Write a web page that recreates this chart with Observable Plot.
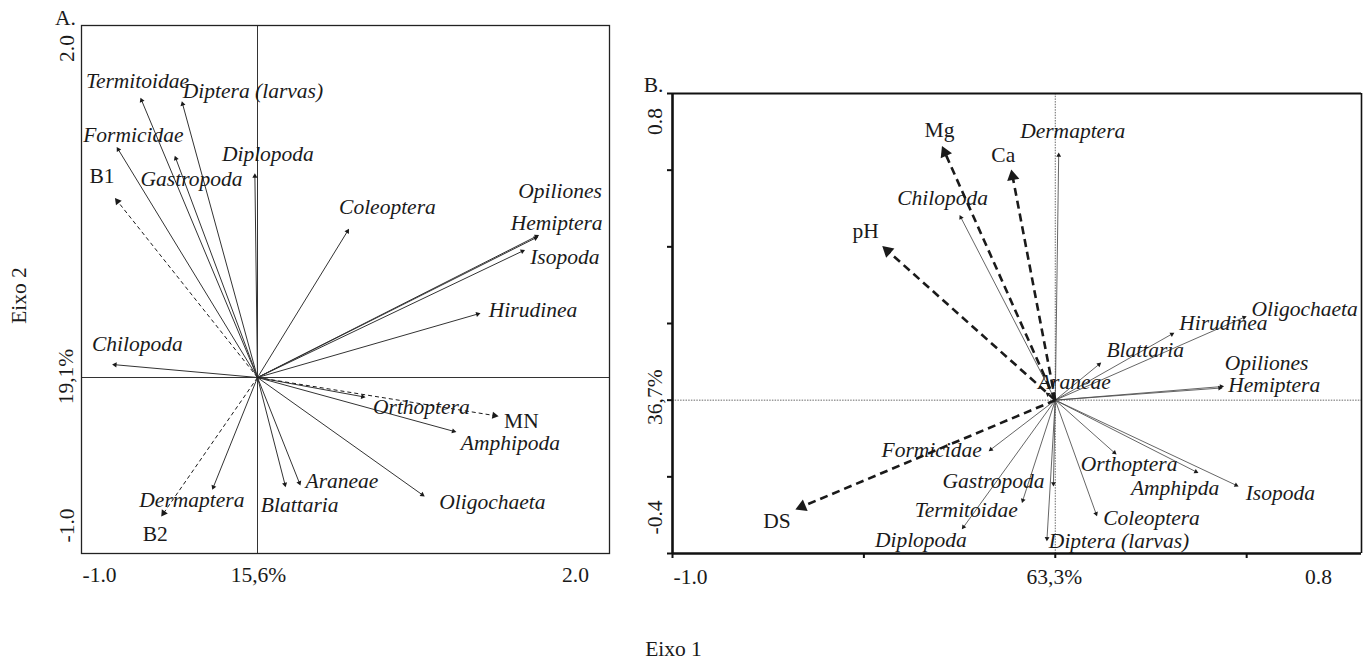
<!DOCTYPE html>
<html>
<head>
<meta charset="utf-8">
<script src="https://cdn.jsdelivr.net/npm/d3@7"></script>
<script src="https://cdn.jsdelivr.net/npm/@observablehq/plot@0.6"></script>
<style>
html,body{margin:0;padding:0;background:#fff;}
#wrap{position:relative;width:1372px;height:665px;overflow:hidden;background:#fff;}
#wrap svg{position:absolute;top:0;overflow:visible;}
</style>
</head>
<body>
<div id="wrap"></div>
<script>
// ================= DATA =================
// Panel A — species vectors (Eixo 1, Eixo 2)
const speciesA = ["Termitoidae","Diptera (larvas)","Formicidae","Gastropoda","Diplopoda","Coleoptera","Opiliones","Hemiptera","Isopoda","Hirudinea","Chilopoda","Orthoptera","Amphipoda","Oligochaeta","Araneae","Blattaria","Dermaptera"];
const eixo1A = [-0.665,-0.43,-0.80,-0.47,-0.015,0.52,1.60,1.595,1.52,1.267,-0.826,0.614,1.13,0.95,0.244,0.16,-0.257];
const eixo2A = [1.59,1.57,1.31,1.26,1.16,0.845,0.81,0.80,0.725,0.365,0.074,-0.112,-0.31,-0.676,-0.614,-0.623,-0.638];
// Panel A — environmental vectors
const envA = ["B1","B2","MN"];
const envEixo1A = [-0.81,-0.547,1.37];
const envEixo2A = [1.02,-0.79,-0.22];
// Panel A — tick labels
const xTicksA = [-1, 0, 2];
const xTickLabelsA = ["-1.0","15,6%","2.0"];
const yTicksA = [2, 0, -1];
const yTickLabelsA = ["2.0","19,1%","-1.0"];

// Panel B — species vectors
const speciesB = ["Chilopoda","Dermaptera","Oligochaeta","Hirudinea","Blattaria","Opiliones","Hemiptera","Araneae","Formicidae","Gastropoda","Termitoidae","Diplopoda","Diptera (larvas)","Coleoptera","Orthoptera","Amphipda","Isopoda"];
const eixo1B = [-0.25,0.009,0.50,0.311,0.12,0.441,0.437,-0.025,-0.174,-0.005,-0.087,-0.244,-0.022,0.109,0.16,0.374,0.479];
const eixo2B = [0.483,0.646,0.219,0.176,0.098,0.036,0.032,0.02,-0.133,-0.225,-0.268,-0.337,-0.368,-0.303,-0.142,-0.19,-0.225];
// Panel B — environmental vectors
const envB = ["Mg","Ca","pH","DS"];
const envEixo1B = [-0.296,-0.115,-0.452,-0.679];
const envEixo2B = [0.663,0.602,0.402,-0.285];
// Panel B — ticks
const xTicksB = [-1, 0, 0.8];
const xTickLabelsB = ["-1.0","63,3%","0.8"];
const yTicksB = [0.8, 0, -0.4];
const yTickLabelsB = ["0.8","36,7%","-0.4"];
const xTickMarksB = [-1,-0.5,0,0.5];
const yTickMarksB = [-0.4,-0.2,0,0.2,0.4,0.6,0.8];

// ================= LAYOUT / STYLE =================
const FONT = '"Liberation Serif", "Times New Roman", Times, serif';
const INK = "#1a1a1a";
const FS = 21.5;

// label placement relative to arrow tip: [textAnchor, dx(px), dy(px)]
const placeA = {
  "Termitoidae":["middle",-3,-16.5], "Diptera (larvas)":["start",1,-10], "Formicidae":["middle",16.6,-11.7],
  "Gastropoda":["middle",16.7,23], "Diplopoda":["middle",13,-19], "Coleoptera":["middle",38.4,-21.6],
  "Opiliones":["middle",21,-44], "Hemiptera":["middle",18.4,-14], "Isopoda":["middle",39.8,7.4],
  "Hirudinea":["middle",52.5,-2.7], "Chilopoda":["middle",25.3,-20], "Orthoptera":["middle",55.8,10],
  "Amphipoda":["middle",54,10.7], "Oligochaeta":["middle",67.7,5.7], "Araneae":["middle",41.5,-4],
  "Blattaria":["middle",14,17.6], "Dermaptera":["middle",-20.4,10.8],
  "B1":["middle",-13,-21.7], "B2":["middle",-6,17.5], "MN":["middle",22.8,4.7]
};
const placeB = {
  "Chilopoda":["middle",-17,-16.5], "Dermaptera":["middle",14,-21], "Oligochaeta":["middle",58,-7],
  "Hirudinea":["middle",49,-10], "Blattaria":["middle",44,-12], "Opiliones":["middle",42.5,-23],
  "Hemiptera":["middle",51.7,-3], "Araneae":["middle",28.6,-10.8], "Formicidae":["middle",-57,-1],
  "Gastropoda":["middle",-59.8,-5], "Termitoidae":["middle",-55.7,6.8], "Diplopoda":["middle",-41,11],
  "Diptera (larvas)":["start",2,-0.5], "Coleoptera":["middle",54.5,1.5], "Orthoptera":["middle",12.5,10],
  "Amphipda":["middle",-23.3,15], "Isopoda":["middle",41.7,6.7],
  "Mg":["middle",-2.5,-16], "Ca":["middle",-8,-14], "pH":["middle",-16.7,-15], "DS":["middle",-18.3,11.7]
};

const wrap = document.getElementById("wrap");

function vectors(names, xs, ys) {
  return names.map((name, i) => ({name, x: xs[i], y: ys[i]}));
}
function withHeads(rows, k, r) {
  const tip = 2 * Math.sqrt(Math.PI * r * r / (3 * Math.sqrt(3))) / k;
  return rows.map(d => {
    const L = Math.hypot(d.x, d.y);
    return {...d, cx: d.x - d.x / L * tip, cy: d.y - d.y / L * tip, angle: Math.atan2(d.x, d.y) * 180 / Math.PI};
  });
}
function labelMarks(rows, place, italic) {
  return rows.map(d => {
    const [anchor, dx, dy] = place[d.name];
    return Plot.text([d], {x: "x", y: "y", text: "name", textAnchor: anchor, lineAnchor: "middle",
      dx, dy, fontSize: FS, fontStyle: italic ? "italic" : "normal", fill: INK});
  });
}
function bottomLabels(values, labels, offs) {
  return values.map((v, i) => Plot.text([v], {x: d => d, frameAnchor: "bottom", text: () => labels[i],
    dx: offs[i][0], dy: offs[i][1], fontSize: FS, fill: INK, textAnchor: "middle", lineAnchor: "middle"}));
}
function leftLabels(values, labels, offs) {
  return values.map((v, i) => Plot.text([v], {y: d => d, frameAnchor: "left", rotate: -90, text: () => labels[i],
    dx: offs[i][0], dy: offs[i][1], fontSize: FS, fill: INK, textAnchor: "middle", lineAnchor: "middle"}));
}

function buildPanel(c) {
  const k = (c.width - c.marginLeft - c.marginRight) / (c.xDomain[1] - c.xDomain[0]);
  const sp = withHeads(vectors(c.species, c.spX, c.spY), k, c.spHeadR);
  const env = withHeads(vectors(c.env, c.envX, c.envY), k, c.envHeadR);
  const marks = [
    ...c.background,
    Plot.link(sp, {x1: () => 0, y1: () => 0, x2: "cx", y2: "cy", stroke: c.spStroke, strokeWidth: c.spWidth}),
    Plot.link(env, {x1: () => 0, y1: () => 0, x2: "cx", y2: "cy", stroke: INK, strokeWidth: c.envWidth, strokeDasharray: c.envDash}),
    Plot.dot(sp, {x: "cx", y: "cy", symbol: "triangle", r: c.spHeadR, rotate: "angle", fill: INK, stroke: "none"}),
    Plot.dot(env, {x: "cx", y: "cy", symbol: "triangle", r: c.envHeadR, rotate: "angle", fill: INK, stroke: "none"}),
    ...labelMarks(sp, c.place, true),
    ...labelMarks(env, c.place, false),
    ...bottomLabels(c.xTicks, c.xTickLabels, c.xTickOffs),
    ...leftLabels(c.yTicks, c.yTickLabels, c.yTickOffs),
    ...c.extra
  ];
  const svg = Plot.plot({
    width: c.width, height: c.height,
    marginLeft: c.marginLeft, marginRight: c.marginRight, marginTop: c.marginTop, marginBottom: c.marginBottom,
    x: {domain: c.xDomain, axis: null},
    y: {domain: c.yDomain, axis: null},
    style: {fontFamily: FONT, fontSize: FS + "px", background: "transparent", color: INK, overflow: "visible"},
    marks
  });
  svg.style.left = c.left + "px";
  wrap.appendChild(svg);
}

// Panel A
buildPanel({
  left: 0, width: 620, height: 665, marginLeft: 81, marginRight: 11, marginTop: 25, marginBottom: 112,
  xDomain: [-1, 2], yDomain: [-1, 2],
  species: speciesA, spX: eixo1A, spY: eixo2A, env: envA, envX: envEixo1A, envY: envEixo2A,
  spStroke: "#333", spWidth: 1, spHeadR: 1.9,
  envWidth: 1, envDash: "4,3", envHeadR: 2.7,
  place: placeA,
  xTicks: xTicksA, xTickLabels: xTickLabelsA, xTickOffs: [[18,22],[1,22],[-34,22]],
  yTicks: yTicksA, yTickLabels: yTickLabelsA, yTickOffs: [[-14,23],[-15,-1],[-14,-28]],
  background: [
    Plot.ruleX([0], {stroke: "#333", strokeWidth: 1}),
    Plot.ruleY([0], {stroke: "#333", strokeWidth: 1}),
    Plot.frame({stroke: "#222", strokeWidth: 1.3})
  ],
  extra: [
    Plot.text(["A."], {frameAnchor: "top-left", text: d => d, dx: -16, dy: -7, fontSize: FS, fill: INK, textAnchor: "middle", lineAnchor: "middle"}),
    Plot.text(["Eixo 2"], {frameAnchor: "left", text: d => d, rotate: -90, dx: -62, dy: 6, fontSize: FS, fill: INK, textAnchor: "middle", lineAnchor: "middle"})
  ]
});

// Panel B
buildPanel({
  left: 620, width: 752, height: 665, marginLeft: 52, marginRight: 11, marginTop: 93, marginBottom: 112,
  xDomain: [-1, 0.8], yDomain: [-0.4, 0.8],
  species: speciesB, spX: eixo1B, spY: eixo2B, env: envB, envX: envEixo1B, envY: envEixo2B,
  spStroke: "#4a4a4a", spWidth: 0.85, spHeadR: 1.8,
  envWidth: 2.6, envDash: "8,5", envHeadR: 4.6,
  place: placeB,
  xTicks: xTicksB, xTickLabels: xTickLabelsB, xTickOffs: [[18,24],[-1,24],[-43,24]],
  yTicks: yTicksB, yTickLabels: yTickLabelsB, yTickOffs: [[-17,28],[-17,-3],[-17,-36]],
  background: [
    Plot.ruleX([0], {stroke: "#444", strokeWidth: 0.8, strokeDasharray: "1.5,1.2"}),
    Plot.ruleY([0], {stroke: "#444", strokeWidth: 0.8, strokeDasharray: "1.5,1.2"}),
    Plot.ruleY([0.8], {stroke: "#111", strokeWidth: 2.2}),
    Plot.ruleX([0.8], {stroke: "#111", strokeWidth: 1.6}),
    Plot.ruleX([-1], {stroke: "#111", strokeWidth: 2.6}),
    Plot.ruleY([-0.4], {stroke: "#111", strokeWidth: 2.6}),
    Plot.axisY(yTickMarksB, {tickSize: 5, tickFormat: () => "", stroke: "#111", strokeWidth: 2, label: null}),
    Plot.axisX(xTickMarksB, {tickSize: 5, tickFormat: () => "", stroke: "#111", strokeWidth: 2, label: null})
  ],
  extra: [
    Plot.text(["B."], {frameAnchor: "top-left", text: d => d, dx: -19, dy: -8, fontSize: FS, fill: INK, textAnchor: "middle", lineAnchor: "middle"}),
    Plot.text(["Eixo 1"], {frameAnchor: "bottom-left", text: d => d, dx: 1, dy: 96, fontSize: FS, fill: INK, textAnchor: "middle", lineAnchor: "middle"})
  ]
});
</script>
</body>
</html>
